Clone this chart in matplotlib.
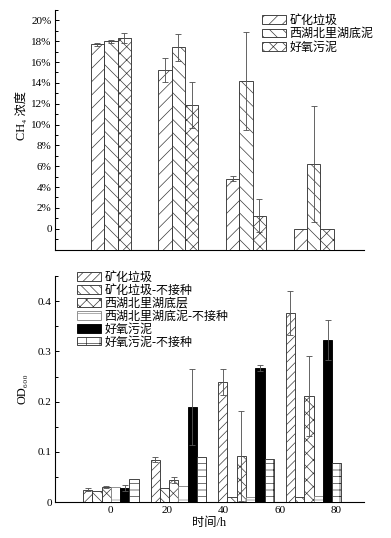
import matplotlib

matplotlib.use("Agg")
import matplotlib.pyplot as plt  # noqa: E402
from matplotlib.ticker import FuncFormatter, MultipleLocator  # noqa: E402

plt.rcParams["font.family"] = ["Liberation Serif", "DejaVu Serif", "Noto Sans CJK SC"]
plt.rcParams["hatch.linewidth"] = 0.6

DPI = 80
EDGE, ERR = "#333333", "#555555"
TICK_FS, LAB_FS, LEG_FS = 10, 11, 10.8

# sampling times (h)
hours = [0, 24, 48, 72]

# --- top panel: CH4 concentration (%) ---
ch4_labels = ["矿化垃圾", "西湖北里湖底泥", "好氧污泥"]
ch4_kuanghua = [17.7, 15.2, 4.8, 0.0]
ch4_kuanghua_err = [0.15, 1.15, 0.25, 0.0]
ch4_xihu = [18.0, 17.4, 14.2, 6.2]
ch4_xihu_err = [0.15, 1.25, 4.7, 5.55]
ch4_haoyang = [18.3, 11.9, 1.25, 0.0]
ch4_haoyang_err = [0.5, 2.2, 1.6, 0.0]

# --- bottom panel: OD600 ---
od_labels = ["矿化垃圾", "矿化垃圾-不接种", "西湖北里湖底层",
             "西湖北里湖底泥-不接种", "好氧污泥", "好氧污泥-不接种"]
od_kuanghua = [0.0246, 0.0844, 0.240, 0.377]
od_kuanghua_err = [0.003, 0.0055, 0.026, 0.044]
od_kuanghua_ctrl = [0.0226, 0.028, 0.0106, 0.0106]
od_xihu = [0.030, 0.0439, 0.0917, 0.211]
od_xihu_err = [0.0012, 0.0066, 0.089, 0.080]
od_xihu_ctrl = [0.030, 0.032, 0.0106, 0.012]
od_haoyang = [0.028, 0.190, 0.267, 0.3236]
od_haoyang_err = [0.006, 0.076, 0.006, 0.040]
od_haoyang_ctrl = [0.045, 0.0904, 0.0857, 0.0784]


def _style(ax):
    ax.spines[["top", "right"]].set_visible(False)
    for s in ("left", "bottom"):
        ax.spines[s].set_linewidth(1.0)
    ax.tick_params(axis="y", which="both", direction="in", labelsize=TICK_FS, pad=2.5)
    ax.tick_params(axis="y", which="major", length=3.5, width=0.9)
    ax.tick_params(axis="y", which="minor", length=3.0, width=0.9)
    ax.set_xlim(-20, 90)


def _errs(ax, x, y, e):
    pts = [(xi, yi, ei) for xi, yi, ei in zip(x, y, e) if ei > 0]
    if pts:
        xs, ys, es = zip(*pts)
        ax.errorbar(xs, ys, yerr=es, fmt="none", ecolor=ERR, elinewidth=0.8,
                    capsize=2.4, capthick=0.8, zorder=4)


fig = plt.figure(figsize=(391 / DPI, 538 / DPI), dpi=DPI)
ax1 = fig.add_axes([0.1394, 0.5362, 0.7923, 0.4452])
ax2 = fig.add_axes([0.1394, 0.0669, 0.7923, 0.4197])

# top panel
w1 = 4.75
ybase = -2
series1 = [
    (ch4_kuanghua, ch4_kuanghua_err, "//"),
    (ch4_xihu, ch4_xihu_err, "\\\\"),
    (ch4_haoyang, ch4_haoyang_err, "xx"),
]
for i, (vals, errs, hatch) in enumerate(series1):
    x = [h + (i - 1) * w1 for h in hours]
    ax1.bar(x, [v - ybase for v in vals], width=w1, bottom=ybase, color="white",
            edgecolor=EDGE, hatch=hatch, linewidth=0.8, label=ch4_labels[i], zorder=3)
    _errs(ax1, x, vals, errs)

_style(ax1)
ax1.set_ylim(-2, 21)
ax1.yaxis.set_major_locator(MultipleLocator(2))
ax1.yaxis.set_minor_locator(MultipleLocator(1))
ax1.set_yticks([v for v in range(0, 21, 2)])
ax1.yaxis.set_major_formatter(FuncFormatter(lambda v, _: "0" if v == 0 else f"{v:.0f}%"))
ax1.set_xticks([])
ax1.set_ylabel("CH₄ 浓度", fontsize=LAB_FS)
ax1.yaxis.set_label_coords(-0.085, 0.56)
ax1.legend(loc="upper left", bbox_to_anchor=(0.67, 0.98), frameon=False,
           fontsize=LEG_FS, handlelength=2.0, handleheight=0.7, handletextpad=0.3,
           labelspacing=0.12, borderpad=0, borderaxespad=0)

# bottom panel
w2 = 3.3
series2 = [
    (od_kuanghua, od_kuanghua_err, "///", "white", EDGE),
    (od_kuanghua_ctrl, None, "\\\\\\", "white", EDGE),
    (od_xihu, od_xihu_err, "xx", "white", EDGE),
    (od_xihu_ctrl, None, "-", "white", "#888888"),
    (od_haoyang, od_haoyang_err, None, "black", "black"),
    (od_haoyang_ctrl, None, "--|", "white", EDGE),
]
for i, (vals, errs, hatch, fc, ec) in enumerate(series2):
    x = [h + (i - 2.5) * w2 for h in hours]
    ax2.bar(x, vals, width=w2, color=fc, edgecolor=ec, hatch=hatch,
            linewidth=0.8, label=od_labels[i], zorder=3)
    if errs is not None:
        _errs(ax2, x, vals, errs)

_style(ax2)
ax2.set_ylim(0, 0.45)
ax2.yaxis.set_major_locator(MultipleLocator(0.1))
ax2.yaxis.set_minor_locator(MultipleLocator(0.05))
ax2.yaxis.set_major_formatter(FuncFormatter(lambda v, _: "0" if v == 0 else f"{v:.1f}"))
ax2.set_xticks([0, 20, 40, 60, 80])
ax2.tick_params(axis="x", length=0, labelsize=TICK_FS, pad=4)
ax2.set_ylabel("OD₆₀₀", fontsize=LAB_FS)
ax2.yaxis.set_label_coords(-0.085, 0.5)
ax2.set_xlabel("时间/h", fontsize=LAB_FS, labelpad=1)
ax2.legend(loc="upper left", bbox_to_anchor=(0.072, 1.02), frameon=False,
           fontsize=LEG_FS, handlelength=2.0, handleheight=0.7, handletextpad=0.3,
           labelspacing=0.08, borderpad=0, borderaxespad=0)

fig.savefig("out.png", dpi=DPI)
plt.close(fig)
